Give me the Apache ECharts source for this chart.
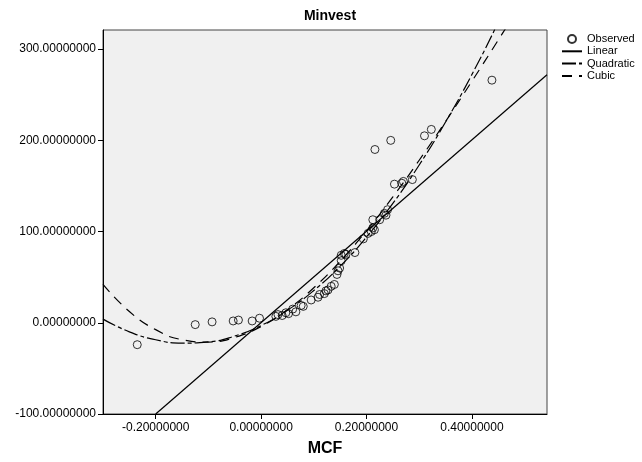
<!DOCTYPE html>
<html>
<head>
<meta charset="utf-8">
<script src="https://cdn.jsdelivr.net/npm/echarts@6/dist/echarts.min.js"></script>
<style>
html, body { margin: 0; padding: 0; background: #fff; }
#chart { width: 642px; height: 462px; }
</style>
</head>
<body>
<div id="chart"></div>
<script>
// observed points (MCF, Minvest)
var obsX = [-0.235, -0.125, -0.093, -0.053, -0.043, -0.017, -0.003,
  0.028, 0.032, 0.040, 0.047, 0.052, 0.060, 0.066, 0.076, 0.080, 0.095, 0.108, 0.111, 0.120,
  0.123, 0.127, 0.133, 0.139, 0.144, 0.146, 0.149, 0.152, 0.152, 0.158, 0.161, 0.178, 0.194,
  0.203, 0.209, 0.212, 0.215, 0.212, 0.225, 0.234, 0.237, 0.240, 0.216, 0.246, 0.253, 0.267,
  0.270, 0.287, 0.310, 0.323, 0.438];
var obsY = [-24, -2, 1, 2, 3, 2, 5,
  7, 9, 8, 11, 10, 15, 12, 19, 18, 25, 28, 31, 32,
  35, 36, 40, 42, 53, 57, 60, 68, 74, 76, 75, 77, 92,
  98, 100, 104, 102, 113, 113, 120, 118, 124, 190, 200, 152, 153,
  155, 157, 205, 212, 266];

// fitted lines
var linX = [-0.2, 0.5425];
var linY = [-100, 272];
var fitX = [-0.30, -0.25, -0.20, -0.15, -0.10, -0.05, 0.00, 0.05, 0.10, 0.15, 0.20, 0.25, 0.30, 0.35, 0.40, 0.45, 0.50];
var quadY = [4.0, -9.9, -18.6, -22.3, -21.0, -14.5, -3.0, 13.7, 35.4, 62.1, 94.0, 130.9, 173.0, 220.1, 272.2, 329.5, 391];
var cubicY = [42.0, 12.4, -7.5, -18.5, -21.1, -16.0, -4.0, 14.4, 38.4, 67.5, 100.9, 138.0, 178.2, 220.7, 264.8, 310.0, 355.7];

var xTicks = [-0.2, 0, 0.2, 0.4];
var yTicks = [-100, 0, 100, 200, 300];

function pairs(xs, ys) {
  return xs.map(function (x, i) { return [x, ys[i]]; });
}

var chart = echarts.init(document.getElementById('chart'));
var fontName = '"Liberation Sans", Arial, sans-serif';
var noDot = { opacity: 0 };

chart.setOption({
  animation: false,
  backgroundColor: '#fff',
  title: {
    text: 'Minvest',
    left: 325,
    textAlign: 'center',
    top: 4,
    textStyle: { fontFamily: fontName, fontSize: 14, fontWeight: 'bold', color: '#000' }
  },
  legend: {
    orient: 'vertical',
    left: 561,
    top: 33,
    padding: 0,
    itemWidth: 20,
    itemHeight: 8,
    itemGap: 0.3,
    textStyle: { fontFamily: fontName, fontSize: 11, color: '#000', lineHeight: 12 },
    data: [
      { name: 'Observed' },
      { name: 'Linear', itemStyle: noDot },
      { name: 'Quadratic', itemStyle: noDot },
      { name: 'Cubic', itemStyle: noDot }
    ]
  },
  grid: {
    left: 103, right: 95, top: 30, bottom: 43,
    show: true,
    backgroundColor: '#f0f0f0',
    borderColor: '#444',
    borderWidth: 1
  },
  xAxis: {
    type: 'value',
    min: -0.30,
    max: 0.5425,
    name: 'MCF',
    nameLocation: 'middle',
    nameGap: 27,
    nameTextStyle: { fontFamily: fontName, fontSize: 16, fontWeight: 'bold', color: '#000' },
    axisLine: { onZero: false, lineStyle: { color: '#000', width: 1 } },
    axisTick: { customValues: xTicks, length: 5, lineStyle: { color: '#000' } },
    axisLabel: {
      customValues: xTicks,
      fontFamily: fontName, fontSize: 12, color: '#000', margin: 8,
      formatter: function (v) { return v.toFixed(8); }
    },
    splitLine: { show: false }
  },
  yAxis: {
    type: 'value',
    min: -100,
    max: 321,
    axisLine: { show: true, onZero: false, lineStyle: { color: '#000', width: 1 } },
    axisTick: { show: true, customValues: yTicks, length: 5, lineStyle: { color: '#000' } },
    axisLabel: {
      customValues: yTicks,
      fontFamily: fontName, fontSize: 12, color: '#000', margin: 7,
      formatter: function (v) { return v.toFixed(8); }
    },
    splitLine: { show: false }
  },
  series: [
    {
      name: 'Observed',
      type: 'scatter',
      symbol: 'circle',
      symbolSize: 8,
      itemStyle: { color: 'transparent', borderColor: '#000', borderWidth: 1 },
      data: pairs(obsX, obsY)
    },
    {
      name: 'Linear',
      type: 'line',
      showSymbol: false,
      symbol: 'none',
      lineStyle: { color: '#000', width: 1.2 },
      itemStyle: { color: '#000' },
      data: pairs(linX, linY)
    },
    {
      name: 'Quadratic',
      type: 'line',
      smooth: true,
      showSymbol: false,
      symbol: 'none',
      lineStyle: { color: '#000', width: 1.2, type: [14, 3, 4, 3] },
      itemStyle: { color: '#000' },
      data: pairs(fitX, quadY)
    },
    {
      name: 'Cubic',
      type: 'line',
      smooth: true,
      showSymbol: false,
      symbol: 'none',
      lineStyle: { color: '#000', width: 1.2, type: [10, 7] },
      itemStyle: { color: '#000' },
      data: pairs(fitX, cubicY)
    }
  ]
});
</script>
</body>
</html>
